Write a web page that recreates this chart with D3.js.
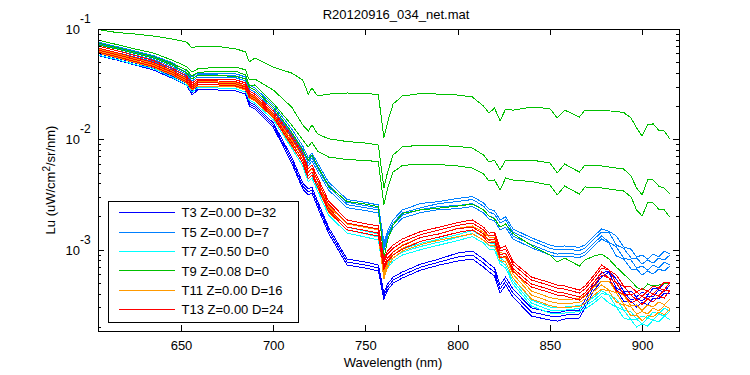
<!DOCTYPE html>
<html><head><meta charset="utf-8">
<script src="https://cdn.jsdelivr.net/npm/d3@7"></script>
<style>
body{margin:0;background:#fff;}
svg{display:block;font-family:"Liberation Sans",Arial,Helvetica,sans-serif;}
</style></head><body>
<svg id="chart" width="750" height="375"></svg>
<script>
// ---------------- data ----------------
const wavelength = [605,615,625,635,645,653,656,659,670,680,685,687,690,700,710,716,719,721,724,730,740,750,757,760,762,765,770,780,790,800,808,814,817,820,823,826,830,840,850,854,858,866,869,874,878,882,886,890,894,897,900,903,906,909,912,915];

// T3 (blue)
const T3 = [
 [.0619,.0569,.0513,.0462,.0391,.0338,.0274,.0304,.0304,.0298,.0280,.0218,.0205,.0141,.00691,.00402,.00355,.00370,.00276,.00160,.000822,.000772,.000725,.000404,.000488,.000564,.000627,.000740,.000822,.000932,.000971,.000822,.000740,.000681,.000478,.000564,.000439,.000296,.000272,.000266,.000278,.000283,.000349,.000508,.000614,.000640,.000541,.000421,.000421,.000372,.000413,.000388,.000449,.000439,.000498,.000488],
 [.0600,.0546,.0492,.0443,.0375,.0324,.0263,.0292,.0292,.0286,.0268,.0209,.0196,.0135,.00649,.00377,.00333,.00347,.00259,.00151,.000772,.000725,.000681,.000380,.000458,.000530,.000588,.000695,.000772,.000857,.000893,.000756,.000681,.000627,.000439,.000519,.000404,.000272,.000250,.000245,.000255,.000261,.000321,.000468,.000564,.000627,.000449,.000413,.000349,.000364,.000342,.000380,.000372,.000430,.000413,.000478],
 [.0575,.0524,.0472,.0425,.0360,.0311,.0252,.0280,.0280,.0274,.0257,.0200,.0188,.0129,.00610,.00355,.00313,.00326,.00243,.00141,.000725,.000681,.000640,.000357,.000430,.000498,.000553,.000653,.000725,.000788,.000822,.000695,.000627,.000576,.000404,.000478,.000372,.000250,.000230,.000225,.000235,.000240,.000296,.000430,.000519,.000519,.000439,.000342,.000342,.000302,.000335,.000315,.000364,.000357,.000404,.000396]
];
// T5 (light blue)
const T5 = [
 [.0762,.0694,.0632,.0575,.0497,.0420,.0367,.0399,.0399,.0391,.0367,.0311,.0292,.0205,.0124,.00870,.00677,.00751,.00610,.00410,.00285,.00268,.00254,.00117,.00147,.00186,.00229,.00262,.00273,.00291,.00303,.00265,.00233,.00224,.00186,.00198,.00154,.00128,.00110,.00106,.00108,.00105,.00110,.00133,.00154,.00147,.00133,.00106,.00101,.000857,.000893,.000822,.000912,.000857,.000971,.000912],
 [.0731,.0666,.0606,.0552,.0477,.0404,.0352,.0383,.0383,.0375,.0352,.0298,.0280,.0196,.0116,.00817,.00636,.00706,.00573,.00385,.00268,.00251,.00238,.00110,.00139,.00174,.00215,.00240,.00262,.00273,.00285,.00248,.00219,.00210,.00174,.00186,.00144,.00121,.00103,.000992,.00101,.000982,.00103,.00125,.00144,.00144,.00110,.00103,.000839,.000839,.000740,.000805,.000756,.000839,.000805,.000893],
 [.0701,.0638,.0581,.0530,.0457,.0387,.0338,.0367,.0367,.0360,.0338,.0286,.0268,.0188,.0112,.00783,.00610,.00677,.00549,.00370,.00256,.00240,.00229,.00106,.00133,.00167,.00206,.00231,.00246,.00251,.00262,.00229,.00202,.00193,.00160,.00171,.00133,.00111,.000951,.000912,.000932,.000902,.000951,.00115,.00133,.00117,.00106,.000839,.000805,.000681,.000710,.000653,.000725,.000681,.000772,.000725],
 [.0673,.0612,.0557,.0507,.0438,.0371,.0324,.0352,.0352,.0345,.0324,.0274,.0257,.0181,.0105,.00736,.00573,.00636,.00516,.00347,.00240,.00226,.00215,.000992,.00125,.00157,.00193,.00217,.00231,.00235,.00246,.00215,.00190,.00182,.00151,.00160,.00125,.00104,.000893,.000857,.000875,.000848,.000893,.00108,.00125,.00115,.000875,.000822,.000667,.000667,.000588,.000640,.000601,.000667,.000640,.000710]
];
// T7 (cyan)
const T7 = [
 [.0632,.0575,.0518,.0467,.0399,.0338,.0292,.0317,.0317,.0311,.0292,.0247,.0232,.0163,.00945,.00649,.00465,.00505,.00385,.00233,.00160,.00147,.00139,.000667,.000772,.000893,.00101,.00114,.00125,.00137,.00149,.00130,.00115,.00114,.000839,.000772,.000553,.000349,.000302,.000296,.000302,.000311,.000328,.000372,.000425,.000388,.000357,.000283,.000272,.000235,.000250,.000240,.000272,.000261,.000296,.000275],
 [.0606,.0552,.0497,.0448,.0383,.0324,.0280,.0304,.0304,.0298,.0280,.0237,.0223,.0156,.00888,.00610,.00437,.00475,.00362,.00219,.00151,.00139,.00130,.000627,.000725,.000839,.000951,.00107,.00117,.00129,.00140,.00122,.00108,.00107,.000788,.000725,.000519,.000328,.000283,.000278,.000283,.000293,.000308,.000349,.000400,.000388,.000302,.000283,.000230,.000235,.000212,.000240,.000230,.000261,.000250,.000275],
 [.0581,.0530,.0477,.0438,.0367,.0311,.0268,.0292,.0292,.0286,.0268,.0227,.0213,.0150,.00834,.00573,.00410,.00446,.00340,.00206,.00141,.00130,.00122,.000588,.000681,.000788,.000893,.00100,.00110,.00121,.00131,.00115,.00101,.00100,.000740,.000681,.000488,.000308,.000266,.000261,.000266,.000275,.000290,.000328,.000376,.000328,.000302,.000240,.000230,.000199,.000212,.000203,.000230,.000221,.000250,.000232]
];
// T9 (green)
const T9 = [
 [.0989,.0930,.0901,.0864,.0812,.0762,.0673,.0701,.0694,.0659,.0619,.0502,.0546,.0452,.0399,.0345,.0257,.0292,.0247,.0257,.0263,.0260,.0255,.0103,.0143,.0209,.0247,.0260,.0257,.0252,.0242,.0200,.0173,.0192,.0147,.0188,.0184,.0196,.0190,.0156,.0184,.0159,.0184,.0182,.0182,.0181,.0179,.0175,.0156,.0127,.0107,.0135,.0138,.0121,.0119,.0101],
 [.0795,.0724,.0659,.0606,.0524,.0457,.0408,.0434,.0452,.0452,.0425,.0345,.0352,.0280,.0196,.0135,.0119,.0135,.0112,.0101,.00955,.00926,.00888,.00362,.00505,.00721,.00852,.00888,.00879,.00861,.00834,.00721,.00623,.00649,.00527,.00649,.00649,.00649,.00610,.00495,.00597,.00505,.00585,.00579,.00573,.00561,.00549,.00538,.00465,.00362,.00313,.00428,.00428,.00377,.00362,.00319],
 [.0747,.0680,.0619,.0563,.0487,.0425,.0375,.0404,.0416,.0412,.0383,.0304,.0311,.0213,.0135,.00986,.00852,.00945,.00783,.00691,.00656,.00642,.00629,.00254,.00362,.00505,.00579,.00597,.00591,.00573,.00549,.00485,.00419,.00428,.00347,.00446,.00428,.00414,.00385,.00313,.00377,.00319,.00370,.00366,.00362,.00355,.00347,.00340,.00300,.00229,.00202,.00265,.00265,.00233,.00229,.00198],
 [.0716,.0659,.0600,.0546,.0472,.0399,.0352,.0379,.0379,.0371,.0352,.0298,.0280,.0196,.0116,.00800,.00649,.00721,.00573,.00377,.00273,.00259,.00245,.000839,.00122,.00167,.00213,.00229,.00238,.00248,.00259,.00229,.00202,.00190,.00160,.00171,.00140,.00109,.000893,.000772,.000839,.000710,.000805,.000875,.000912,.000822,.000695,.000601,.000519,.000458,.000430,.000488,.000468,.000478,.000488,.000498]
];
// T11 (orange)
const T11 = [
 [.0659,.0600,.0540,.0487,.0416,.0352,.0304,.0331,.0331,.0324,.0304,.0257,.0242,.0170,.00986,.00691,.00495,.00538,.00419,.00248,.00171,.00159,.00151,.000614,.000788,.000951,.00110,.00129,.00139,.00156,.00164,.00144,.00130,.00129,.000941,.000912,.000653,.000421,.000368,.000357,.000353,.000360,.000388,.000458,.000519,.000519,.000413,.000388,.000308,.000315,.000281,.000315,.000302,.000335,.000318,.000353],
 [.0632,.0575,.0518,.0467,.0399,.0338,.0292,.0317,.0317,.0311,.0292,.0247,.0232,.0163,.00926,.00649,.00465,.00505,.00393,.00233,.00160,.00149,.00141,.000576,.000740,.000893,.00103,.00119,.00130,.00143,.00151,.00133,.00120,.00119,.000866,.000839,.000601,.000388,.000338,.000328,.000325,.000331,.000357,.000421,.000478,.000430,.000404,.000321,.000302,.000261,.000275,.000261,.000296,.000278,.000311,.000293],
 [.0606,.0552,.0497,.0448,.0383,.0324,.0280,.0304,.0304,.0298,.0280,.0237,.0223,.0156,.00870,.00610,.00437,.00475,.00370,.00219,.00151,.00140,.00133,.000541,.000695,.000839,.000971,.00111,.00122,.00131,.00139,.00122,.00110,.00109,.000796,.000772,.000553,.000357,.000311,.000302,.000299,.000305,.000328,.000388,.000439,.000421,.000335,.000315,.000250,.000255,.000227,.000255,.000245,.000272,.000258,.000286]
];
// T13 (red)
const T13 = [
 [.0701,.0638,.0575,.0518,.0443,.0375,.0324,.0352,.0352,.0345,.0324,.0274,.0257,.0181,.0109,.00751,.00538,.00585,.00455,.00276,.00186,.00172,.00164,.000822,.000971,.00110,.00125,.00146,.00160,.00176,.00186,.00160,.00141,.00144,.00103,.00108,.000780,.000564,.000503,.000478,.000468,.000430,.000468,.000588,.000725,.000653,.000588,.000468,.000458,.000413,.000444,.000421,.000468,.000449,.000508,.000503],
 [.0673,.0612,.0552,.0497,.0425,.0360,.0311,.0338,.0338,.0331,.0311,.0263,.0247,.0173,.0103,.00706,.00505,.00549,.00428,.00259,.00174,.00162,.00154,.000772,.000912,.00103,.00117,.00137,.00151,.00166,.00174,.00151,.00133,.00136,.000971,.00101,.000733,.000530,.000473,.000449,.000439,.000404,.000439,.000553,.000681,.000653,.000498,.000468,.000388,.000413,.000376,.000421,.000396,.000449,.000430,.000503],
 [.0645,.0587,.0530,.0477,.0408,.0345,.0298,.0324,.0324,.0317,.0298,.0252,.0237,.0166,.00945,.00649,.00465,.00505,.00393,.00238,.00160,.00149,.00141,.000710,.000839,.000951,.00108,.00129,.00139,.00155,.00160,.00139,.00122,.00125,.000893,.000932,.000674,.000488,.000435,.000413,.000404,.000372,.000404,.000508,.000627,.000553,.000498,.000396,.000388,.000349,.000376,.000357,.000396,.000380,.000430,.000425],
 [.0619,.0563,.0507,.0457,.0391,.0331,.0286,.0311,.0311,.0304,.0286,.0242,.0227,.0159,.00888,.00610,.00437,.00475,.00370,.00224,.00151,.00140,.00133,.000667,.000788,.000893,.00101,.00119,.00130,.00143,.00151,.00130,.00115,.00117,.000839,.000875,.000633,.000458,.000408,.000388,.000380,.000349,.000380,.000478,.000588,.000553,.000421,.000396,.000328,.000349,.000318,.000357,.000335,.000380,.000364,.000425]
];

const seriesGroups = [T3, T5, T7, T9, T11, T13];
const legendLabels = ["T3 Z=0.00 D=32","T5 Z=0.00 D=7","T7 Z=0.50 D=0","T9 Z=0.08 D=0","T11 Z=0.00 D=16","T13 Z=0.00 D=24"];
const colors = ["#0000ff","#0080ff","#00ffff","#00c000","#ff9900","#ff0000"];
const xTicks = [650,700,750,800,850,900];
const yMajor = [1e-3,1e-2,1e-1];
const yExponents = ["-3","-2","-1"];
const titleText = "R20120916_034_net.mat";
const xLabel = "Wavelength (nm)";

// ---------------- layout ----------------
const L = 98, R = 679, T = 29, B = 331;
const svg = d3.select("#chart");
svg.append("rect").attr("width",750).attr("height",375).attr("fill","#fff");

const x = d3.scaleLinear().domain([605, 920]).range([L, R]);
const y = d3.scaleLog().domain([1.83e-4, 0.1]).range([B, T]);

svg.append("clipPath").attr("id","clip").append("rect")
  .attr("x",L).attr("y",T).attr("width",R-L).attr("height",B-T);

const line = d3.line().x((d,i)=>x(wavelength[i])).y(d=>y(d));
const plot = svg.append("g").attr("clip-path","url(#clip)");
seriesGroups.forEach((grp,gi)=>{
  grp.forEach(vals=>{
    plot.append("path").datum(vals).attr("d",line)
      .attr("fill","none").attr("stroke",colors[gi]).attr("stroke-width",1)
      .attr("shape-rendering","crispEdges");
  });
});

// minor log ticks
const yMinor = [];
[1e-4,1e-3,1e-2].forEach(dec=>{ for(let k=2;k<=9;k++){ const v=k*dec; if(v>=1.83e-4 && v<0.1) yMinor.push(v);} });

function styleAxis(g){
  g.select(".domain").remove();
  g.selectAll("line").attr("stroke","#000").attr("shape-rendering","crispEdges");
  g.selectAll("text").attr("font-size",13).attr("font-family","'Liberation Sans',Arial,sans-serif").attr("fill","#000");
}
svg.append("g").attr("transform",`translate(0,${B})`)
  .call(d3.axisBottom(x).tickValues(xTicks).tickSizeInner(-6).tickSizeOuter(0).tickPadding(10).tickFormat(d3.format("d")))
  .call(styleAxis);
svg.append("g").attr("transform",`translate(0,${T})`)
  .call(d3.axisTop(x).tickValues(xTicks).tickSizeInner(-6).tickSizeOuter(0).tickFormat(""))
  .call(styleAxis);
svg.append("g").attr("transform",`translate(${L},0)`)
  .call(d3.axisLeft(y).tickValues(yMajor).tickSizeInner(-6).tickSizeOuter(0).tickFormat(""))
  .call(styleAxis);
svg.append("g").attr("transform",`translate(${L},0)`)
  .call(d3.axisLeft(y).tickValues(yMinor).tickSizeInner(-3).tickSizeOuter(0).tickFormat(""))
  .call(styleAxis);
svg.append("g").attr("transform",`translate(${R},0)`)
  .call(d3.axisRight(y).tickValues(yMajor).tickSizeInner(-6).tickSizeOuter(0).tickFormat(""))
  .call(styleAxis);
svg.append("g").attr("transform",`translate(${R},0)`)
  .call(d3.axisRight(y).tickValues(yMinor).tickSizeInner(-3).tickSizeOuter(0).tickFormat(""))
  .call(styleAxis);

// box
svg.append("rect").attr("x",L+0.5).attr("y",T+0.5).attr("width",R-L).attr("height",B-T)
  .attr("fill","none").attr("stroke","#000").attr("stroke-width",1);

// y tick labels 10^n
yMajor.forEach((v,i)=>{
  svg.append("text").attr("x",80).attr("y",y(v)+5).attr("text-anchor","end")
    .attr("font-size",13).text("10");
  svg.append("text").attr("x",80).attr("y",y(v)-6).attr("text-anchor","start")
    .attr("font-size",12).text(yExponents[i]);
});

// title & labels
svg.append("text").attr("x",396).attr("y",19).attr("text-anchor","middle")
  .attr("font-size",13).text(titleText);
svg.append("text").attr("x",393).attr("y",367).attr("text-anchor","middle")
  .attr("font-size",13).text(xLabel);
const yl = svg.append("text").attr("transform","translate(55,180) rotate(-90)")
  .attr("text-anchor","middle").attr("font-size",13);
yl.append("tspan").text("Lu (uW/cm");
yl.append("tspan").attr("dy",-5).attr("font-size",10).text("2");
yl.append("tspan").attr("dy",5).text("/sr/nm)");

// legend
const lg = svg.append("g");
lg.append("rect").attr("x",108.5).attr("y",201.5).attr("width",190).attr("height",121)
  .attr("fill","#fff").attr("stroke","#000").attr("stroke-width",1);
legendLabels.forEach((lab,i)=>{
  const ry = 212.7 + i*19.4;
  lg.append("line").attr("x1",119).attr("x2",175).attr("y1",ry).attr("y2",ry)
    .attr("stroke",colors[i]).attr("stroke-width",1).attr("shape-rendering","crispEdges");
  lg.append("text").attr("x",181.5).attr("y",ry+4.6).attr("font-size",13).text(lab);
});
</script>
</body></html>
